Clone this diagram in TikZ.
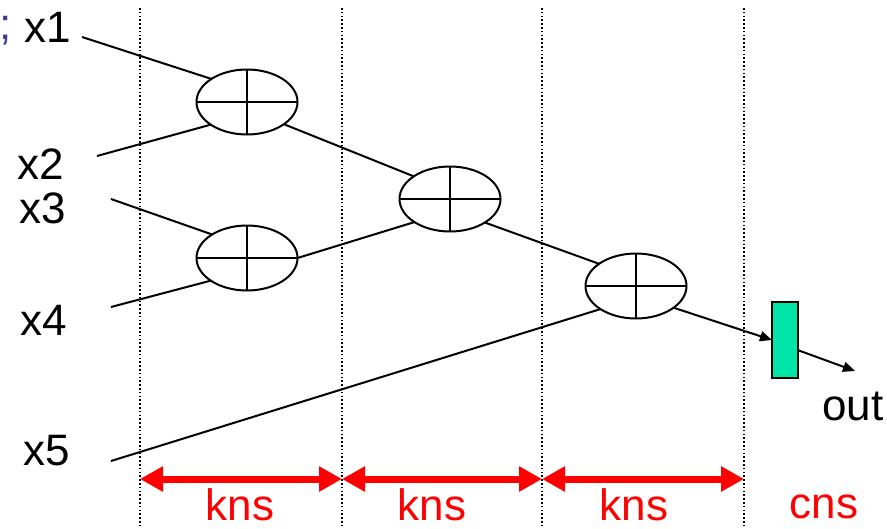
\documentclass[tikz,border=0pt]{standalone}
\usepackage{fontspec}
\setmainfont{Liberation Sans}
\usetikzlibrary{shapes.geometric,arrows.meta}

\definecolor{regfill}{RGB}{0,230,168}
\definecolor{semiblue}{RGB}{60,60,160}

\tikzset{
  lbl/.style={inner sep=0pt,anchor=base west,font=\fontsize{44}{48}\selectfont},
  redlbl/.style={inner sep=0pt,anchor=base,text=red,font=\fontsize{44}{48}\selectfont},
  adder/.style={ellipse,draw,line width=2pt,inner sep=0pt,outer sep=0pt,
    minimum width=101pt,minimum height=65pt,
    path picture={\draw[line width=2pt]
      (path picture bounding box.north) -- (path picture bounding box.south)
      (path picture bounding box.west) -- (path picture bounding box.east);}},
  reg/.style={rectangle,draw,line width=2pt,fill=regfill,inner sep=0pt,outer sep=0pt,
    minimum width=26pt,minimum height=76pt},
  wire/.style={line width=2pt},
  stage/.style={line width=1.5pt,dash pattern=on 1.5pt off 2.3pt},
  span/.style={red,line width=7pt,{Triangle[length=23pt,width=24pt]}-{Triangle[length=23pt,width=24pt]}}
}

\begin{document}
\begin{tikzpicture}[x=1pt,y=-1pt]
  \useasboundingbox (0,0) rectangle (887,528);

  % stage boundaries
  \foreach \x [count=\i] in {140,342,542,744} {
    \coordinate (top\i) at (\x,8);
    \coordinate (bot\i) at (\x,528);
    \coordinate (arr\i) at (\x,479);
    \draw[stage] (top\i) -- (bot\i);
  }

  % inputs
  \node[lbl,text=semiblue] (semi) at (-1,39) {;};
  \node[lbl] (lx1) at (24,42) {x1};
  \node[lbl] (lx2) at (17,179) {x2};
  \node[lbl] (lx3) at (19,223) {x3};
  \node[lbl] (lx4) at (20,335) {x4};
  \node[lbl] (lx5) at (23,465) {x5};
  \coordinate (in1) at (82,37);
  \coordinate (in2) at (97,156);
  \coordinate (in3) at (111,199);
  \coordinate (in4) at (111,307);
  \coordinate (in5) at (111,461);

  % adder tree
  \node[adder] (add1) at (247,102) {};
  \node[adder] (add3) at (247,258) {};
  \node[adder] (add2) at (450,199) {};
  \node[adder] (add4) at (636,286) {};
  \node[reg] (outreg) at (785,340) {};
  \coordinate (outend) at (855,371);
  \node[lbl] (lout) at (822,420) {out};

  \draw[wire] (in1) -- (add1.147);
  \draw[wire] (in2) -- (add1.212);
  \draw[wire] (in3) -- (add3.146);
  \draw[wire] (in4) -- (add3.212);
  \draw[wire] (add1.329) -- (add2.148);
  \draw[wire] (add3.east) -- (add2.213);
  \draw[wire] (add2.326) -- (add4.149);
  \draw[wire] (in5) -- (add4.213);
  \draw[wire,-{Triangle[length=12pt,width=10pt]}] (add4.330) -- (outreg.west);
  \draw[wire,-{Triangle[length=12pt,width=10pt]}] (outreg.-38) -- (outend);

  % delays per stage
  \draw[span] (arr1) -- (arr2);
  \draw[span] (arr2) -- (arr3);
  \draw[span] (arr3) -- (arr4);
  \node[redlbl] (k1) at (240,520) {kns};
  \node[redlbl] (k2) at (432,520) {kns};
  \node[redlbl] (k3) at (634,520) {kns};
  \node[redlbl] (c1) at (824,518) {cns};
\end{tikzpicture}
\end{document}
